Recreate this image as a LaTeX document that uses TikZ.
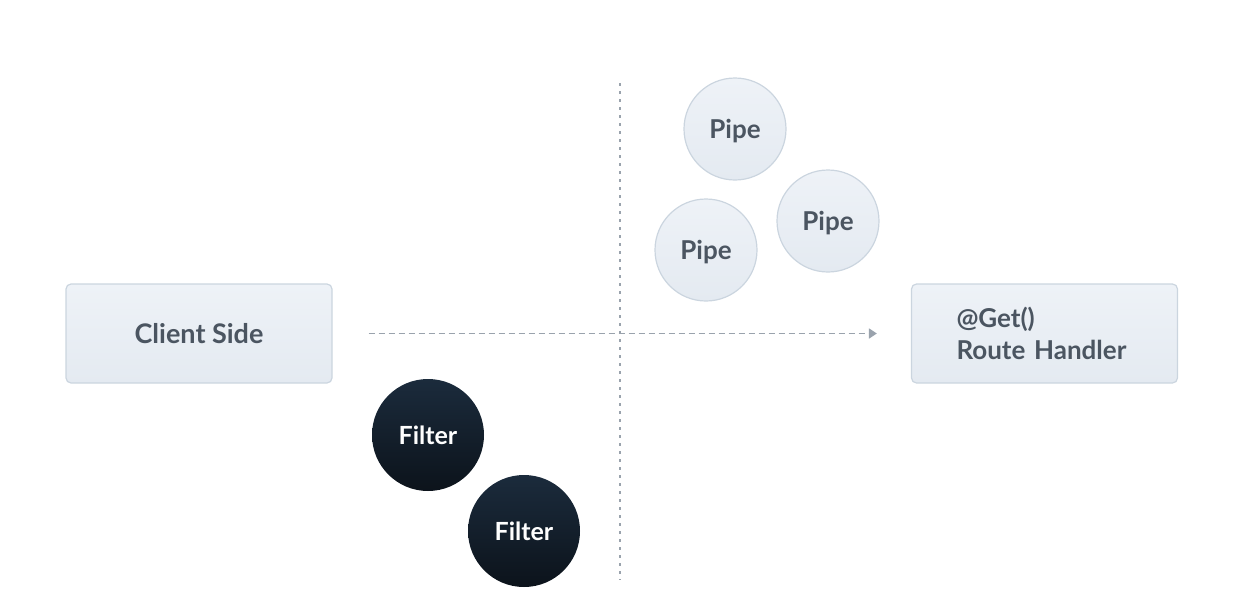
\documentclass[tikz,border=0pt]{standalone}
\usepackage{fontspec}
\setmainfont{Lato}
\usepackage{tikz}
\usetikzlibrary{positioning, arrows.meta, calc}
\usepackage{xcolor}
\definecolor{nest-box}{HTML}{EEF2F7}
\definecolor{nest-boxdark}{HTML}{E4EAF1}
\definecolor{nest-line}{HTML}{CBD5DF}
\definecolor{nest-text}{HTML}{4B5561}
\definecolor{nest-dark}{HTML}{1B2B3C}
\definecolor{nest-darker}{HTML}{0C131B}
\definecolor{nest-dash}{HTML}{9AA3AD}

\tikzset{
	side/.style={draw=nest-line, line width=0.6pt, rounded corners=2.5pt, top color=nest-box, bottom color=nest-boxdark, minimum width=133pt, minimum height=49.5pt, font=\fontsize{13.5}{16}\selectfont\bfseries, text=nest-text},
	pipe/.style={circle, draw=nest-line, line width=0.6pt, top color=nest-box, bottom color=nest-boxdark, minimum size=51pt, inner sep=0pt, text depth=0pt, font=\fontsize{13}{15}\selectfont\bfseries, text=nest-text},
	filter/.style={circle, top color=nest-dark, bottom color=nest-darker, minimum size=56pt, inner sep=0pt, font=\fontsize{12.5}{15}\selectfont\bfseries, text=white!92!nest-box},
}

\begin{document}
\begin{tikzpicture}[x=0.5pt, y=-0.5pt, node distance=0pt]
	\useasboundingbox (0,0) rectangle (1244,606);
	\node[side] (client) at (199,333.5) {Client Side};
	\node[side, align=left, text width=88pt, font=\fontsize{13}{16}\selectfont\bfseries] (handler) at (1044.5,333.5) {@Get()\\Route Handler};
	\coordinate (top) at (620,83);
	\coordinate (bottom) at (620,580);
	\draw[nest-dash, line width=0.8pt, dash pattern=on 1.5pt off 2.5pt] (top) -- (bottom);
	\draw[nest-dash, line width=0.8pt, dash pattern=on 3pt off 2pt, -{Triangle[length=4pt, width=5pt]}, shorten <=18pt, shorten >=17pt] (client) -- (handler);
	\node[pipe] (pipe1) at (735,129) {Pipe};
	\node[pipe] (pipe2) at (828,221) {Pipe};
	\node[pipe] (pipe3) at (706,250) {Pipe};
	\node[filter] (filter1) at (428,435) {Filter};
	\node[filter] (filter2) at (524,531) {Filter};
\end{tikzpicture}
\end{document}
